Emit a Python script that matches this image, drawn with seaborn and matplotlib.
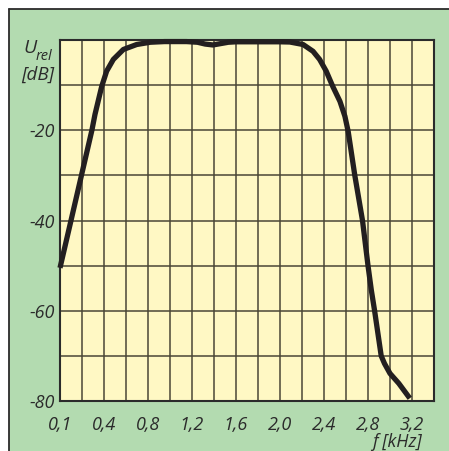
import numpy as np
import pandas as pd
import matplotlib
matplotlib.use("Agg")
import matplotlib.pyplot as plt
import seaborn as sns
from matplotlib.patches import Rectangle
from matplotlib.lines import Line2D

# Filter passband response; frequency axis runs on a 0.2 kHz grid pitch
freq = [0.00, 0.10, 0.195, 0.29, 0.318, 0.379, 0.424, 0.485, 0.576, 0.697,
        0.82, 0.95, 1.15, 1.25, 1.32, 1.39, 1.46, 1.53, 1.60, 1.80, 2.00,
        2.09, 2.21, 2.30, 2.36, 2.42, 2.48, 2.545, 2.59, 2.62, 2.68, 2.75,
        2.80, 2.83, 2.86, 2.89, 2.92, 2.95, 3.00, 3.08, 3.18]
level = [-50.5, -40.0, -30.0, -20.0, -16.5, -10.3, -6.9, -4.3, -2.1, -1.0,
         -0.5, -0.35, -0.35, -0.5, -0.9, -1.1, -0.8, -0.5, -0.4, -0.4, -0.4,
         -0.45, -1.0, -2.5, -4.3, -6.9, -10.3, -13.6, -16.9, -20.3, -30.0, -40.0,
         -50.0, -55.4, -60.0, -65.0, -70.0, -71.7, -73.9, -76.1, -79.4]

x_tick_pos = [0.0, 0.4, 0.8, 1.2, 1.6, 2.0, 2.4, 2.8, 3.2]
x_tick_labels = ["0,1", "0,4", "0,8", "1,2", "1,6", "2,0", "2,4", "2,8", "3,2"]
y_tick_pos = [-80, -60, -40, -20]
y_tick_labels = ["-80", "-60", "-40", "-20"]

sns.set_theme(style="white")
plt.rcParams["font.family"] = ["Open Sans", "DejaVu Sans"]

W, H = 449, 451
fig = plt.figure(figsize=(W / 100, H / 100), dpi=100, facecolor="white")

# green backing panel with a dark edge on top and left
fig.patches.append(Rectangle((9 / W, 0), 1, 1 - 9 / H, transform=fig.transFigure,
                             facecolor="#b3dbb0", edgecolor="none", zorder=-2))
fig.lines.append(Line2D([9 / W, 1], [1 - 9 / H] * 2, transform=fig.transFigure,
                        color="#2b2b2b", lw=1.3, zorder=-1))
fig.lines.append(Line2D([9 / W] * 2, [0, 1 - 9 / H], transform=fig.transFigure,
                        color="#2b2b2b", lw=1.3, zorder=-1))

ax = fig.add_axes([60 / W, 1 - 401 / H, (434 - 60) / W, (401 - 40) / H])
ax.set_zorder(1)
ax.set_facecolor("#fff8c4")

df = pd.DataFrame({"f": freq, "u": level})
sns.lineplot(data=df, x="f", y="u", ax=ax, color="#231f20", lw=3.8, sort=False,
             solid_joinstyle="round", solid_capstyle="butt", clip_on=False, zorder=5)

ax.set_xlim(0, 3.4)
ax.set_ylim(-80, 0)

ax.set_xticks(x_tick_pos)
ax.set_xticklabels(x_tick_labels)
ax.set_yticks(y_tick_pos)
ax.set_yticklabels(y_tick_labels)
ax.set_xticks(np.arange(0, 3.41, 0.2), minor=True)
ax.set_yticks(np.arange(-80, 0.1, 10), minor=True)
ax.grid(which="both", color="#4a4636", lw=1.1)
ax.tick_params(which="both", length=0)
ax.tick_params(axis="x", pad=11)
ax.tick_params(axis="y", pad=4)
for lab in ax.get_xticklabels() + ax.get_yticklabels():
    lab.set_fontstyle("italic")
    lab.set_fontsize(13)
    lab.set_color("#2b2b2b")

for sp in ax.spines.values():
    sp.set_visible(True)
    sp.set_color("#2b2b2b")
    sp.set_linewidth(1.5)

ax.set_xlabel("")
ax.set_ylabel("")

txt = dict(color="#2b2b2b", fontstyle="italic", transform=fig.transFigure, zorder=2)
fig.text(23 / W, 1 - 48 / H, "U", fontsize=14, ha="left", va="center", **txt)
fig.text(36 / W, 1 - 57 / H, "rel", fontsize=10.5, ha="left", va="center", **txt)
fig.text(21 / W, 1 - 75 / H, "[dB]", fontsize=13.5, ha="left", va="center", **txt)
fig.text(422 / W, 1 - 442 / H, "f [kHz]", fontsize=13, ha="right", va="center", **txt)

fig.savefig("out.png", dpi=100, facecolor="white")
